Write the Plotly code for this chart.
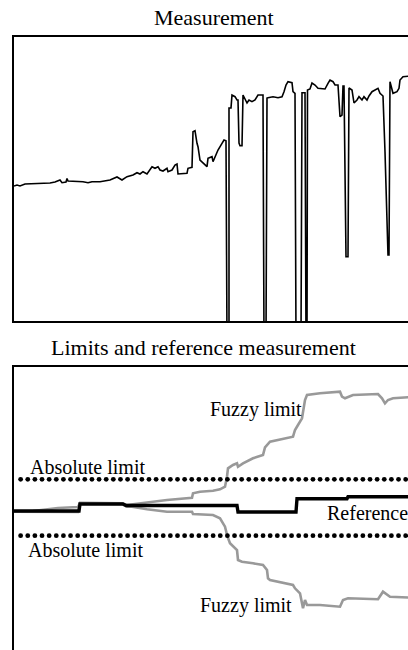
import numpy as np
import plotly.graph_objects as go

# ---------------- data ----------------
# Top panel: measurement (time index, value)
meas_t = [0, 3, 6, 11, 36, 41, 46, 48, 52, 53, 54, 69, 74, 78, 86, 96, 103, 108, 113, 119, 123, 126, 129, 133,
          138, 141, 144, 146, 149, 153, 154, 158, 161, 163, 164, 168, 173, 174, 178, 179, 181, 183, 184, 186,
          189, 193, 194, 198, 199, 203, 204, 208, 210, 212,
          213, 215, 215, 217, 218, 221, 223, 224, 225, 226, 228, 229, 231, 233, 235, 238, 241, 244, 249,
          250, 252, 253, 254, 259, 264, 268, 270, 272, 274, 278, 279, 281,
          282, 287, 288, 291, 292, 293, 293.5, 296, 298, 301, 304, 311, 314, 316, 319, 321, 324, 326, 328, 329, 330,
          332, 334, 335, 338, 340, 343, 345, 348, 350, 353, 355, 358, 361, 364, 366, 369, 371, 374, 375,
          376, 379, 383, 385, 386, 389, 394, 398]
meas_v = [135, 136, 135, 137, 138, 139, 141, 138.3, 139, 142.5, 140, 139.3, 138.3, 139.3, 139.3, 141, 144, 141, 144.3,
          146, 148.3, 147, 149.3, 147, 154.3, 152.7, 154.3, 151, 150, 152.7, 149.3, 151, 156, 157, 147, 147, 147.7,
          152.7, 153.7, 189.3, 190.3, 177.7, 174.3, 161, 157.7, 154.3, 162.7, 164.3, 159.3, 169.3, 171, 177.7, 181, 180.3,
          -20, -20, 213, 213, 226, 224.3, 221, 221, 178, 175.3, 175.3, 226, 222.7, 218, 221, 219.3, 221, 226, 226,
          -20, -20, 223, 223.3, 224.3, 223.3, 224.3, 229.3, 236, 239.3, 238.3, 229.3, 227.7,
          -20, -20, 228.3, 228.3, -20, -20, 231, 232, 238, 236, 232.7, 232, 237.7, 241, 239.3, 236, 236, 204.3, 206,
          235, 235, 64.3, 64.3, 233, 231, 218, 221, 224.3, 221, 224.3, 221, 225, 229.3, 231, 232.7, 227.7, 225, 169.3,
          66, 66, 239.3, 227.7, 229.3, 232.7, 241, 244.3, 245, 245]

# Bottom panel: reference measurement and limits (time index, value)
ref_t = [-0.5, 65, 66, 109, 112, 223, 224, 282, 283, 333, 334, 400]
ref_v = [-3, -3, 4, 4, 2.5, 2.5, -4, -4, 9.3, 9.3, 11.3, 11.3]

fuzzy_up_t = [-1, 19, 44, 64, 66, 86, 108, 113, 126, 153, 178, 179, 186, 199, 206, 211, 213, 214, 219, 223, 224,
              229, 239, 249, 251, 253, 256, 279, 281, 284, 288, 291, 293, 306, 326, 328, 331, 339, 364, 368, 371,
              374, 379, 394, 400]
fuzzy_up_v = [-3.7, -3, 0, 1, 5.3, 5.3, 4.7, 3, 4.7, 8, 10.3, 14.7, 16.3, 17.3, 18.7, 21.3, 31.3, 39.7, 43, 44.7,
              41.3, 44.7, 49.7, 53, 60.7, 63, 66.3, 71.3, 78, 83, 89.7, 108, 113, 114.7, 116.3, 111.3, 109.7, 113,
              114, 109.7, 104.7, 108, 109.7, 110.7, 110.7]
fuzzy_lo_t = [-1, 19, 44, 64, 66, 86, 108, 113, 118, 133, 153, 178, 179, 199, 206, 211, 213, 213.5, 216, 223, 224,
              228, 239, 249, 253, 254, 256, 279, 281, 286, 288, 289, 291, 293, 306, 326, 329, 334, 364, 369, 376,
              394, 400]
fuzzy_lo_v = [-3.7, -4, -4, -4, 4.5, 4.5, 4, 1.3, 1.3, -1.3, -3.7, -3.7, -6, -7, -10.3, -18.7, -28.7, -28.7, -35.3,
              -42, -52, -53.7, -55.3, -57, -62, -70.3, -72, -77, -80.3, -85.3, -95.3, -100.3, -92, -97, -97, -98.7,
              -92, -90.3, -91.3, -83.7, -88.7, -89.7, -89.7]

abs_limits = [28.7, -27.7]

# ---------------- styling ----------------
FONT = "Liberation Serif"
GRAY = "#999999"
DOT_STEP = 7.13
H = 650.0

fig = go.Figure()

fig.add_trace(go.Scatter(x=meas_t, y=meas_v, mode="lines", line=dict(color="black", width=1.6),
                         xaxis="x", yaxis="y", showlegend=False, hoverinfo="skip"))

fig.add_trace(go.Scatter(x=fuzzy_up_t, y=fuzzy_up_v, mode="lines", line=dict(color=GRAY, width=2.6),
                         xaxis="x2", yaxis="y2", showlegend=False, hoverinfo="skip"))
fig.add_trace(go.Scatter(x=fuzzy_lo_t, y=fuzzy_lo_v, mode="lines", line=dict(color=GRAY, width=2.6),
                         xaxis="x2", yaxis="y2", showlegend=False, hoverinfo="skip"))

dot_x = np.arange(-0.5, 400, DOT_STEP)
for lim in abs_limits:
    fig.add_trace(go.Scatter(x=dot_x, y=[lim] * len(dot_x), mode="markers",
                             marker=dict(color="black", size=4.8), cliponaxis=False,
                             xaxis="x2", yaxis="y2", showlegend=False, hoverinfo="skip"))

fig.add_trace(go.Scatter(x=ref_t, y=ref_v, mode="lines", line=dict(color="black", width=3.4),
                         xaxis="x2", yaxis="y2", showlegend=False, hoverinfo="skip"))

ann_font = dict(family=FONT, size=20, color="black")
title_font = dict(family=FONT, size=22, color="black")
annotations = [
    dict(text="Measurement", x=200 / 394, y=1 - 18 / H, xref="paper", yref="paper", showarrow=False,
         font=title_font, xanchor="center", yanchor="middle"),
    dict(text="Limits and reference measurement", x=189 / 394, y=1 - 347 / H, xref="paper", yref="paper",
         showarrow=False, font=title_font, xanchor="center", yanchor="middle"),
    dict(text="Absolute limit", x=14, y=40.7, xref="x2", yref="y2", showarrow=False, font=ann_font,
         xanchor="left", yanchor="middle"),
    dict(text="Absolute limit", x=12, y=-41.7, xref="x2", yref="y2", showarrow=False, font=ann_font,
         xanchor="left", yanchor="middle"),
    dict(text="Fuzzy limit", x=194, y=98.3, xref="x2", yref="y2", showarrow=False, font=ann_font,
         xanchor="left", yanchor="middle"),
    dict(text="Fuzzy limit", x=184, y=-97.7, xref="x2", yref="y2", showarrow=False, font=ann_font,
         xanchor="left", yanchor="middle"),
    dict(text="Reference", x=310.5, y=-5, xref="x2", yref="y2", showarrow=False, font=ann_font,
         xanchor="left", yanchor="middle"),
]

axis_common = dict(showgrid=False, zeroline=False, showticklabels=False, ticks="", fixedrange=True)

fig.update_layout(
    width=408, height=650,
    margin=dict(l=14, r=0, t=0, b=0),
    paper_bgcolor="white", plot_bgcolor="white",
    annotations=annotations,
    xaxis=dict(domain=[0, 1], range=[0, 394], anchor="y", showline=True, mirror=True,
               linecolor="black", linewidth=2, **axis_common),
    yaxis=dict(domain=[1 - 321 / H, 1 - 37 / H], range=[0, 284], anchor="x", showline=True,
               mirror=False, linecolor="black", linewidth=2, **axis_common),
    xaxis2=dict(domain=[0, 1], range=[0, 394], anchor="y2", side="top", showline=True, mirror=False,
                linecolor="black", linewidth=2, **axis_common),
    yaxis2=dict(domain=[0, 1 - 366.5 / H], range=[-142, 141.5], anchor="x2", showline=True,
                mirror=False, linecolor="black", linewidth=2, **axis_common),
)

fig.write_html("out.html", config={"displayModeBar": False},
               post_script="document.body.style.margin='0';document.body.style.overflow='hidden';")
